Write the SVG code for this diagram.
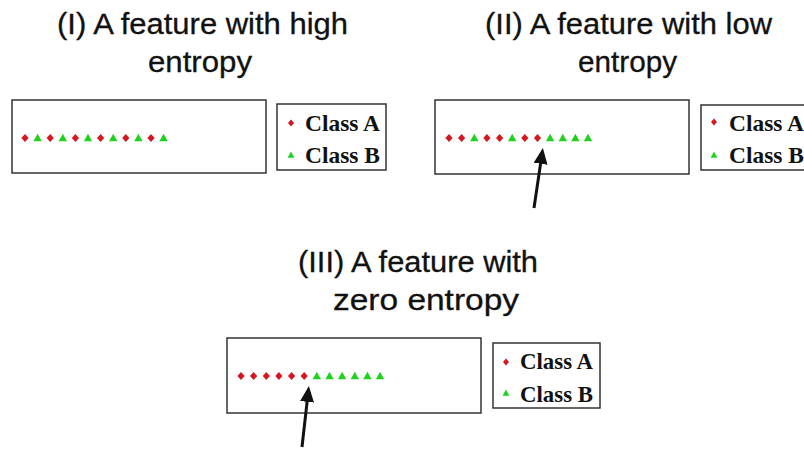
<svg xmlns="http://www.w3.org/2000/svg" width="804" height="450" viewBox="0 0 804 450">
<style>
.title{font-family:"Liberation Sans",Arial,sans-serif;font-size:29px;fill:#111;stroke:#111;stroke-width:0.3}
.leg{font-family:"Liberation Serif","Times New Roman",serif;font-size:23px;font-weight:bold;fill:#111}
.box{fill:#fff;stroke:#333;stroke-width:1.5}
.a{fill:#d4161e}
.b{fill:#1ed21e}
.arrow{stroke:#111;stroke-width:3;fill:none}
</style>
<defs>
<path id="dA" d="M0,-4 L3.6,0 L0,4 L-3.6,0 Z"/>
<path id="tB" d="M0,-4.2 L4.2,3.2 L-4.2,3.2 Z"/>
<path id="ldA" d="M0,-3.4 L3,0 L0,3.4 L-3,0 Z"/>
<path id="ltB" d="M0,-3.4 L3.4,2.8 L-3.4,2.8 Z"/>
<marker id="ah" viewBox="0 0 16 14" refX="1" refY="7" markerWidth="16" markerHeight="14" markerUnits="userSpaceOnUse" orient="auto">
<path d="M0,0 L16,7 L0,14 Z" fill="#111"/>
</marker>
</defs>
<rect width="804" height="450" fill="#fff"/>

<g id="panel1">
<text class="title" x="57" y="34" textLength="291" lengthAdjust="spacingAndGlyphs">(I) A feature with high</text>
<text class="title" x="148" y="72" textLength="104" lengthAdjust="spacingAndGlyphs">entropy</text>
<rect class="box" x="12" y="100" width="254" height="73"/>
<g transform="translate(0,138)">
<use href="#dA" class="a" x="25"/><use href="#tB" class="b" x="37.6"/>
<use href="#dA" class="a" x="50.2"/><use href="#tB" class="b" x="62.8"/>
<use href="#dA" class="a" x="75.4"/><use href="#tB" class="b" x="88"/>
<use href="#dA" class="a" x="100.6"/><use href="#tB" class="b" x="113.2"/>
<use href="#dA" class="a" x="125.8"/><use href="#tB" class="b" x="138.4"/>
<use href="#dA" class="a" x="151"/><use href="#tB" class="b" x="163.6"/>
</g>
</g>
<g id="legend1">
<rect class="box" x="277" y="104" width="109" height="66"/>
<use href="#ldA" class="a" x="291" y="123"/>
<use href="#ltB" class="b" x="291" y="155"/>
<text class="leg" x="305" y="131" textLength="75" lengthAdjust="spacingAndGlyphs">Class A</text>
<text class="leg" x="305" y="163" textLength="75" lengthAdjust="spacingAndGlyphs">Class B</text>
</g>

<g id="panel2">
<text class="title" x="485" y="34" textLength="287" lengthAdjust="spacingAndGlyphs">(II) A feature with low</text>
<text class="title" x="578" y="72" textLength="99" lengthAdjust="spacingAndGlyphs">entropy</text>
<rect class="box" x="435" y="100" width="254" height="74"/>
<g transform="translate(0,138)">
<use href="#dA" class="a" x="449"/><use href="#dA" class="a" x="461.6"/>
<use href="#tB" class="b" x="474.3"/><use href="#dA" class="a" x="486.9"/>
<use href="#dA" class="a" x="499.6"/><use href="#tB" class="b" x="512.2"/>
<use href="#dA" class="a" x="524.8"/><use href="#dA" class="a" x="537.5"/>
<use href="#tB" class="b" x="550.1"/><use href="#tB" class="b" x="562.8"/>
<use href="#tB" class="b" x="575.4"/><use href="#tB" class="b" x="588"/>
</g>
</g>
<g id="legend2">
<rect class="box" x="701" y="105" width="110" height="65"/>
<use href="#ldA" class="a" x="714" y="122"/>
<use href="#ltB" class="b" x="714" y="155"/>
<text class="leg" x="729" y="131" textLength="75" lengthAdjust="spacingAndGlyphs">Class A</text>
<text class="leg" x="729" y="163" textLength="75" lengthAdjust="spacingAndGlyphs">Class B</text>
</g>

<g id="panel3">
<text class="title" x="298" y="272" textLength="240" lengthAdjust="spacingAndGlyphs">(III) A feature with</text>
<text class="title" x="333" y="310" textLength="186" lengthAdjust="spacingAndGlyphs">zero entropy</text>
<rect class="box" x="227" y="338" width="254" height="75"/>
<g transform="translate(0,376)">
<use href="#dA" class="a" x="241"/><use href="#dA" class="a" x="253.6"/>
<use href="#dA" class="a" x="266.3"/><use href="#dA" class="a" x="278.9"/>
<use href="#dA" class="a" x="291.6"/><use href="#dA" class="a" x="304.2"/>
<use href="#tB" class="b" x="316.8"/><use href="#tB" class="b" x="329.5"/>
<use href="#tB" class="b" x="342.1"/><use href="#tB" class="b" x="354.8"/>
<use href="#tB" class="b" x="367.4"/><use href="#tB" class="b" x="380"/>
</g>
</g>
<g id="legend3">
<rect class="box" x="493" y="343" width="107" height="65"/>
<use href="#ldA" class="a" x="506" y="362"/>
<use href="#ltB" class="b" x="506" y="393"/>
<text class="leg" x="520" y="369" textLength="73" lengthAdjust="spacingAndGlyphs">Class A</text>
<text class="leg" x="520" y="402" textLength="73" lengthAdjust="spacingAndGlyphs">Class B</text>
</g>

<g id="connectors">
<line class="arrow" x1="534" y1="208" x2="540.7" y2="162.8" marker-end="url(#ah)"/>
<line class="arrow" x1="302" y1="447" x2="307.2" y2="400.9" marker-end="url(#ah)"/>
</g>
</svg>
